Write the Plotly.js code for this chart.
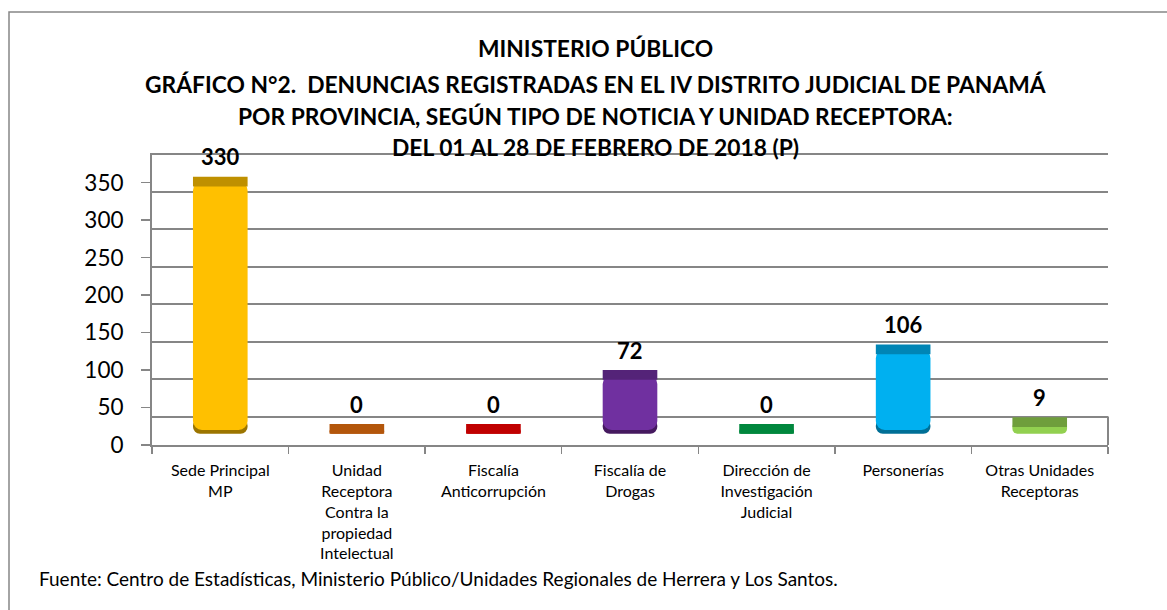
<!DOCTYPE html>
<html>
<head>
<meta charset="utf-8">
<script src="https://cdn.plot.ly/plotly-3.0.1.min.js"></script>
<style>
    html, body { margin: 0; padding: 0; background: #fff; }
    #chart { width: 1167px; height: 610px; }
</style>
</head>
<body>
<div id="chart"></div>
<script>
// Denuncias registradas por unidad receptora, IV Distrito Judicial, febrero 2018

const categories = [
    'Sede Principal MP',
    'Unidad Receptora Contra la propiedad Intelectual',
    'Fiscalía Anticorrupción',
    'Fiscalía de Drogas',
    'Dirección de Investigación Judicial',
    'Personerías',
    'Otras Unidades Receptoras'
];
const tickLabels = [
    'Sede Principal<br>MP',
    'Unidad<br>Receptora<br>Contra la<br>propiedad<br>Intelectual',
    'Fiscalía<br>Anticorrupción',
    'Fiscalía de<br>Drogas',
    'Dirección de<br>Investigación<br>Judicial',
    'Personerías',
    'Otras Unidades<br>Receptoras'
];
const values = [330, 0, 0, 72, 0, 106, 9];
const bodyColors = ['#FFC000', '#B3560B', '#C00000', '#7030A0', '#00873D', '#00B0F0', '#92D050'];
const capColors = ['#BF9000', '#B3560B', '#C00000', '#542378', '#00873D', '#0085B5', '#6F9E3C'];
const shadeColors = ['#9C7500', '#B3560B', '#C00000', '#45195F', '#00873D', '#006F96', '#6F9E3C'];
const yTicks = [0, 50, 100, 150, 200, 250, 300, 350];

const titleLines = [
    'MINISTERIO PÚBLICO',
    'GRÁFICO N°2.  DENUNCIAS REGISTRADAS EN EL IV DISTRITO JUDICIAL DE PANAMÁ',
    'POR PROVINCIA, SEGÚN TIPO DE NOTICIA Y UNIDAD RECEPTORA:',
    'DEL 01 AL 28 DE FEBRERO DE 2018 (P)'
];
const sourceNote = 'Fuente: Centro de Estadísticas, Ministerio Público/Unidades Regionales de Herrera y Los Santos.';

// fake 3D: bars sit on a raised floor, with a darker top face,
// and the back-wall gridlines are shifted down from the ticks
const FLOOR = 15;
const CAP = 13;
const LIP = 5;        // dark rounded rim under tall bars
const SHADE = 20;
const GRID_SHIFT = 12;
const Y_MAX = 387;

const font = 'Lato, "Open Sans", sans-serif';
const gray = '#868686';

const tall = values.map(v => v >= SHADE);

// dark rim, drawn first so the body leaves only its bottom edge visible
const shade = {
    type: 'bar',
    x: categories,
    y: tall.map(t => t ? -SHADE : 0),
    base: values.map(() => FLOOR + SHADE),
    marker: { color: shadeColors, cornerradius: 9, line: { width: 0 } },
    hoverinfo: 'skip'
};

// body drawn top-down so the rounded corners land on the bottom
const body = {
    type: 'bar',
    x: categories,
    y: values.map((v, i) => (tall[i] ? FLOOR + LIP : FLOOR) - (v + FLOOR + CAP / 2)),
    base: values.map(v => v + FLOOR + CAP / 2),
    marker: { color: bodyColors, cornerradius: 9, line: { width: 0 } },
    hoverinfo: 'skip'
};

const cap = {
    type: 'bar',
    x: categories,
    y: values.map(() => CAP),
    base: values.map(v => v + FLOOR),
    marker: { color: capColors, line: { width: 0 } },
    hoverinfo: 'skip'
};

// invisible point so the shifted gridline axis gets drawn
const gridHolder = {
    type: 'scatter',
    mode: 'markers',
    x: [categories[0]],
    y: [yTicks[1]],
    yaxis: 'y2',
    marker: { opacity: 0 },
    hoverinfo: 'skip'
};

const labels = values.map((v, i) => ({
    x: categories[i],
    y: v + FLOOR + CAP,
    yshift: 20,
    text: '<b>' + v + '</b>',
    showarrow: false,
    font: { family: font, size: 22, color: '#000' }
}));

const titleY = [48, 84, 116, 147];
const titleAnn = titleLines.map((t, i) => ({
    xref: 'paper', yref: 'paper',
    x: 0.4634, y: 1 + (155 - titleY[i]) / 290,
    xanchor: 'center', yanchor: 'middle',
    text: '<b>' + t + '</b>',
    showarrow: false,
    font: { family: font, size: 22.8, color: '#000' }
}));

const sourceAnn = {
    xref: 'paper', yref: 'paper',
    x: (37 - 152) / 956, y: (445 - 578) / 290,
    xanchor: 'left', yanchor: 'middle',
    text: sourceNote,
    showarrow: false,
    font: { family: font, size: 19, color: '#000' }
};

const layout = {
    width: 1167,
    height: 610,
    margin: { l: 152, r: 59, t: 155, b: 165 },
    paper_bgcolor: '#fff',
    plot_bgcolor: 'rgba(0,0,0,0)',
    showlegend: false,
    barmode: 'overlay',
    bargap: 0.6,
    font: { family: font, color: '#000' },
    xaxis: {
        type: 'category',
        tickvals: categories,
        ticktext: tickLabels,
        showline: true, linecolor: gray, linewidth: 2, mirror: true,
        ticks: 'outside', tickson: 'boundaries', ticklen: 7,
        tickcolor: gray, tickwidth: 1.5,
        ticklabelstandoff: 10,
        tickfont: { family: font, size: 16, color: '#000' },
        showgrid: false, zeroline: false
    },
    yaxis: {
        range: [0, Y_MAX],
        tickvals: yTicks,
        showline: true, linecolor: gray, linewidth: 2,
        ticks: 'outside', ticklen: 9, tickcolor: gray, tickwidth: 1.5,
        ticklabelstandoff: 13,
        tickfont: { family: font, size: 22.5, color: '#000' },
        showgrid: false, zeroline: false
    },
    yaxis2: {
        overlaying: 'y',
        range: [GRID_SHIFT, Y_MAX + GRID_SHIFT],
        tickvals: yTicks.filter(t => t > 0),
        showgrid: true, gridcolor: gray, gridwidth: 2,
        showticklabels: false, ticks: '',
        showline: false, zeroline: false
    },
    shapes: [
        // right edge of the floor slab
        { type: 'line', xref: 'paper', yref: 'y', x0: 1, x1: 1, y0: 0, y1: yTicks[1] - GRID_SHIFT,
          line: { color: gray, width: 2 } },
        // outer frame
        { type: 'rect', xref: 'paper', yref: 'paper',
          x0: (9 - 152) / 956, x1: 1.2, y0: -0.7, y1: 1 + (155 - 12) / 290,
          line: { color: gray, width: 1.5 } }
    ],
    annotations: [...titleAnn, ...labels, sourceAnn]
};

Plotly.newPlot('chart', [shade, body, cap, gridHolder], layout, { displayModeBar: false, staticPlot: true });
</script>
</body>
</html>
